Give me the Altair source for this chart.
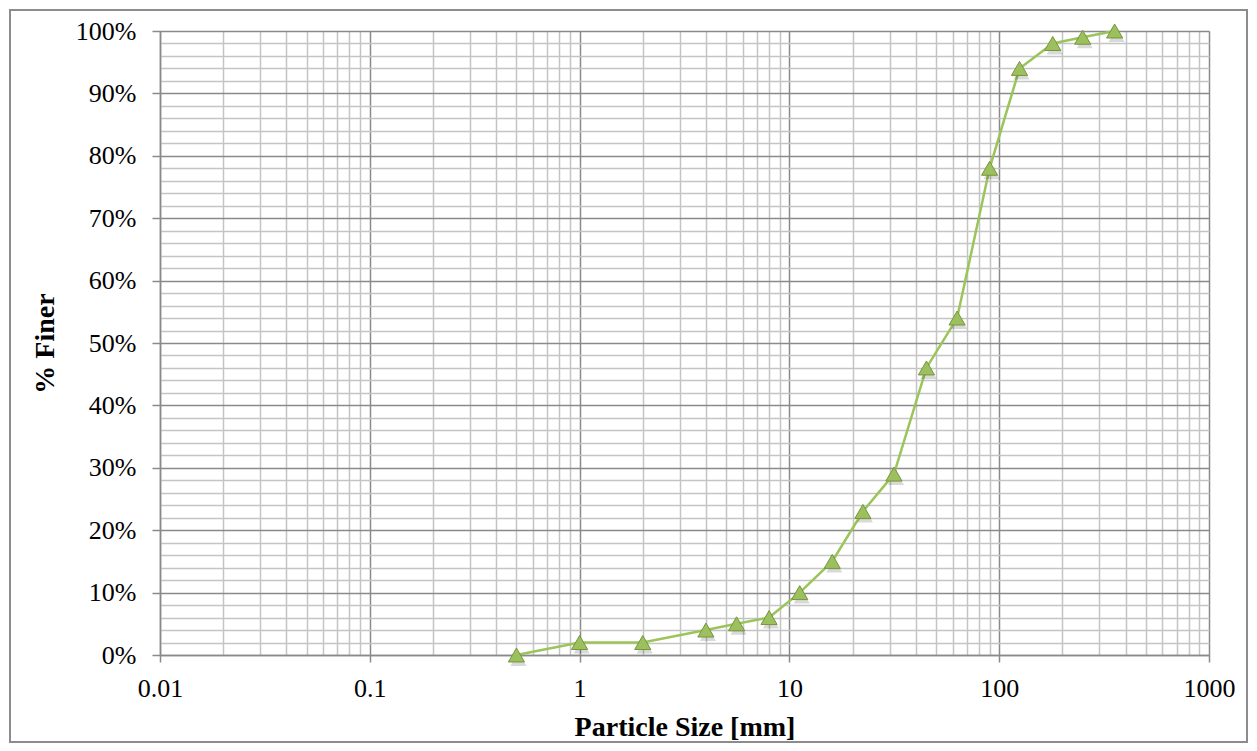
import altair as alt
import pandas as pd

# Data
size_mm = [0.5, 1, 2, 4, 5.6, 8, 11.2, 16, 22.4, 31.5, 45, 63, 90, 125, 180, 250, 355]
pct_finer = [0, 2, 2, 4, 5, 6, 10, 15, 23, 29, 46, 54, 78, 94, 98, 99, 100]

x_major = [0.01, 0.1, 1, 10, 100, 1000]
x_minor = [m * d for d in [0.01, 0.1, 1, 10, 100] for m in range(2, 10)]
y_major = list(range(0, 101, 10))
y_minor = [v for v in range(0, 101, 2) if v % 10 != 0]

df = pd.DataFrame({"size": size_mm, "finer": pct_finer})

W, H = 1049, 624
FONT = "Liberation Serif"

xscale = alt.Scale(type="log", domain=[0.01, 1000], nice=False)
yscale = alt.Scale(domain=[0, 100], nice=False)

# minor grid layer
minor = alt.Chart(df).mark_point(opacity=0).encode(
    x=alt.X("size:Q", scale=xscale,
            axis=alt.Axis(values=x_minor, grid=True, gridColor="#c4c4c4", gridWidth=1.5,
                          labels=False, ticks=False, domain=False, title=None, orient="bottom")),
    y=alt.Y("finer:Q", scale=yscale,
            axis=alt.Axis(values=y_minor, grid=True, gridColor="#c4c4c4", gridWidth=1.5,
                          labels=False, ticks=False, domain=False, title=None, orient="left")),
)

# major grid + labelled axes
major = alt.Chart(df).mark_point(opacity=0).encode(
    x=alt.X("size:Q", scale=xscale,
            axis=alt.Axis(values=x_major, grid=True, gridColor="#8a8a8a", gridWidth=1.5,
                          format="~g", labelFont=FONT, labelFontSize=26, labelColor="#000000",
                          tickColor="#8a8a8a", tickSize=7, tickWidth=1.5, labelPadding=13,
                          domainColor="#8a8a8a", domainWidth=1.5,
                          title="Particle Size [mm]", titleFont=FONT, titleFontSize=28,
                          titleFontWeight="bold", titleColor="#000000",
                          titleY=72, titleBaseline="middle", orient="bottom",
                          labelFlush=False)),
    y=alt.Y("finer:Q", scale=yscale,
            axis=alt.Axis(values=y_major, grid=True, gridColor="#8a8a8a", gridWidth=1.5,
                          labelExpr="datum.value + '%'", labelFont=FONT, labelFontSize=26,
                          labelColor="#000000", tickColor="#8a8a8a", tickSize=8, tickWidth=1.5,
                          labelPadding=16, domainColor="#8a8a8a", domainWidth=1.5,
                          title="% Finer", titleFont=FONT, titleFontSize=28,
                          titleFontWeight="bold", titleColor="#000000",
                          titleX=-115, titleY=H / 2, titleAngle=-90,
                          titleAlign="center", titleBaseline="middle", orient="left",
                          labelFlush=False)),
)

line = alt.Chart(df).mark_line(color="#9bc45a", strokeWidth=2.5).encode(
    x=alt.X("size:Q", scale=xscale, axis=None),
    y=alt.Y("finer:Q", scale=yscale, axis=None),
)

shadow = alt.Chart(df).mark_point(
    shape="triangle-up", size=260, filled=True, color="#000000", opacity=0.15,
    yOffset=4, xOffset=2
).encode(
    x=alt.X("size:Q", scale=xscale, axis=None),
    y=alt.Y("finer:Q", scale=yscale, axis=None),
)

points = alt.Chart(df).mark_point(
    shape="triangle-up", size=260, filled=True, fill="#9dc05f", stroke="#76963c",
    strokeWidth=1, opacity=1
).encode(
    x=alt.X("size:Q", scale=xscale, axis=None),
    y=alt.Y("finer:Q", scale=yscale, axis=None),
)

border = alt.Chart(df).mark_rect(fill=None, stroke="#8c8c8c", strokeWidth=2).encode(
    x=alt.value(-150), x2=alt.value(W + 38), y=alt.value(-21), y2=alt.value(H + 87)
)

chart = alt.layer(minor, major, line, shadow, points, border).resolve_axis(
    x="independent", y="independent"
).properties(
    width=W, height=H,
    autosize=alt.AutoSizeParams(type="none"),
    padding={"left": 152, "top": 23, "right": 40, "bottom": 89},
).configure_view(stroke=None).configure(background="#ffffff")

chart.save("out.html", embed_options={"renderer": "svg", "actions": False})
